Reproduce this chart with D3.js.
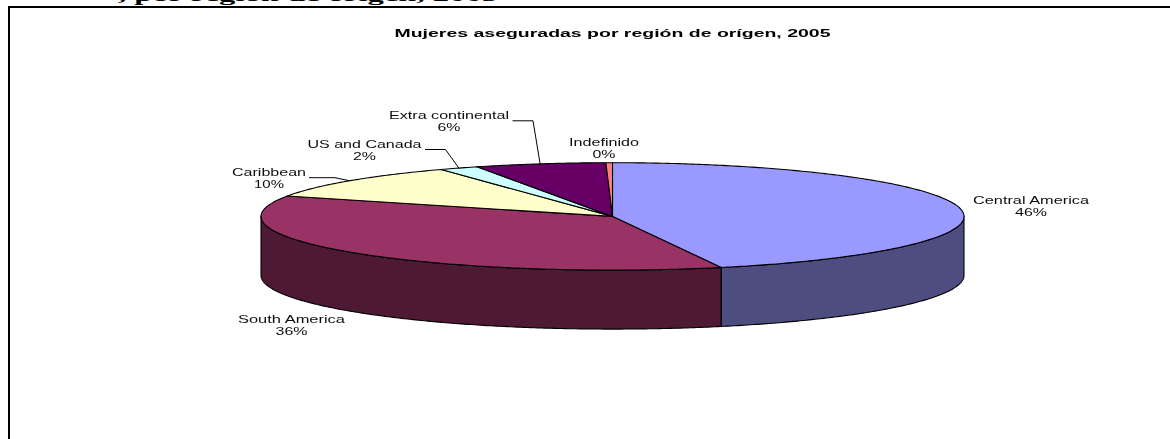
<!DOCTYPE html>
<html><head><meta charset="utf-8">
<script src="https://cdn.jsdelivr.net/npm/d3@7"></script>
<style>html,body{margin:0;padding:0;background:#fff;overflow:hidden}svg{display:block}</style>
</head><body><div id="chart"></div>
<script>
const categories = ["Central America","South America","Caribbean","US and Canada","Extra continental","Indefinido"];
const shares = [45.0, 36.2, 10.7, 1.8, 6.0, 0.3];
const percentLabels = ["46%","36%","10%","2%","6%","0%"];
const topColors = ["#9999FF","#993366","#FFFFCC","#CCFFFF","#660066","#FF8080"];
const sideColors = ["#4D4D80","#4D1933","#80806A","#6A8080","#330033","#804040"];
const chartTitle = "Mujeres aseguradas por región de orígen, 2005";
const clippedHeading = ", por región de origen, 2005";
// label layout: centre x, first-line y, text width
const labelLayout = [
  {cx:1031, y:203.5, w:116},
  {cx:291.5, y:322.5, w:107},
  {cx:269, y:175.5, w:74},
  {cx:364.5, y:147.5, w:114},
  {cx:449, y:118.5, w:120},
  {cx:604, y:145.5, w:70}
];
const percentWidths = [32,32,30,23,23,23];
const leaders = [null,null,{x0:309,x1:335,y:177.7},{x0:425,x1:445.5,y:149.5},{x0:512.5,x1:533,y:120.8},null];

const W=1170,H=439;
const svg=d3.select("#chart").append("svg").attr("width",W).attr("height",H);
const defs=svg.append("defs");
defs.append("filter").attr("id","soft").attr("x","-5%").attr("y","-5%").attr("width","110%").attr("height","110%")
  .append("feGaussianBlur").attr("stdDeviation",0.35);
svg.append("rect").attr("width",W).attr("height",H).attr("fill","#fff");

// heading of the page, cut by the top edge of the picture
svg.append("text").text(clippedHeading)
  .attr("x",118).attr("y",1).attr("textLength",380).attr("lengthAdjust","spacingAndGlyphs")
  .attr("font-family","'Liberation Serif'").attr("font-weight","bold").attr("font-size",17).attr("fill","#000");

// frame
svg.append("path").attr("d","M9,439V7H1170").attr("fill","none").attr("stroke","#000").attr("stroke-width",2);

svg.append("text").text(chartTitle)
  .attr("x",612.5).attr("y",36.5).attr("text-anchor","middle")
  .attr("textLength",436).attr("lengthAdjust","spacingAndGlyphs")
  .attr("font-family","'Liberation Sans'").attr("font-weight","bold").attr("font-size",11.5).attr("fill","#000")
  .attr("filter","url(#soft)");

const sx=d3.scaleLinear().domain([-1,1]).range([261,964]);
const sy=d3.scaleLinear().domain([-1,1]).range([162.7,270.1]);
const depth=59;
const pie=d3.pie().sort(null).startAngle(0).endAngle(2*Math.PI);
const arcs=pie(shares);
const ellX=a=>sx(Math.sin(a)), ellY=a=>sy(-Math.cos(a));
const line=d3.line().x(d=>d[0]).y(d=>d[1]);
const samples=(a,b)=>{const n=Math.max(2,Math.ceil((b-a)/0.01));return d3.range(n+1).map(i=>a+(b-a)*i/n);};

const g=svg.append("g");
// side walls: the visible front half of the rim
arcs.forEach((d,i)=>{
  const a=Math.max(d.startAngle,Math.PI/2), b=Math.min(d.endAngle,3*Math.PI/2);
  if(b<=a) return;
  const s=samples(a,b);
  const pts=s.map(t=>[ellX(t),ellY(t)]).concat(s.slice().reverse().map(t=>[ellX(t),ellY(t)+depth]));
  g.append("path").attr("d",line(pts)+"Z").attr("fill",sideColors[i]).attr("stroke","#000").attr("stroke-width",1.1).attr("stroke-linejoin","round");
});
// top slices
arcs.forEach((d,i)=>{
  const pts=[[sx(0),sy(0)]].concat(samples(d.startAngle,d.endAngle).map(t=>[ellX(t),ellY(t)]));
  g.append("path").attr("d",line(pts)+"Z").attr("fill",topColors[i]).attr("stroke","#000").attr("stroke-width",1.1).attr("stroke-linejoin","round");
});

// leaders
arcs.forEach((d,i)=>{
  const l=leaders[i]; if(!l) return;
  const m=(d.startAngle+d.endAngle)/2;
  svg.append("path").attr("d",line([[l.x0,l.y],[l.x1,l.y],[ellX(m),ellY(m)]])).attr("fill","none").attr("stroke","#000").attr("stroke-width",1);
});

// labels
const lab=svg.append("g").attr("font-family","'Liberation Sans'").attr("font-size",11.5).attr("fill","#111").attr("text-anchor","middle").attr("filter","url(#soft)");
categories.forEach((c,i)=>{
  const p=labelLayout[i];
  lab.append("text").text(c).attr("x",p.cx).attr("y",p.y).attr("textLength",p.w).attr("lengthAdjust","spacingAndGlyphs");
  lab.append("text").text(percentLabels[i]).attr("x",p.cx).attr("y",p.y+12).attr("textLength",percentWidths[i]).attr("lengthAdjust","spacingAndGlyphs");
});
</script></body></html>
